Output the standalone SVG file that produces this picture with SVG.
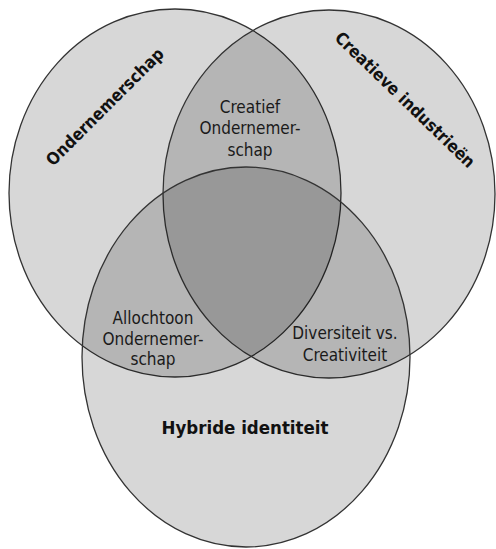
<svg xmlns="http://www.w3.org/2000/svg" width="496" height="549" viewBox="0 0 496 549">
<style>
.c{fill:#000;fill-opacity:0.155;stroke:#333;stroke-width:1.3}
.t{font-family:"DejaVu Sans Condensed","Liberation Sans",sans-serif;font-size:17px;fill:#1a1a1a;text-anchor:middle}
.b{font-family:"DejaVu Sans Condensed","Liberation Sans",sans-serif;font-size:17px;font-weight:bold;fill:#111;text-anchor:middle}
</style>
<rect width="496" height="549" fill="#fff"/>
<g id="ondernemerschap">
<ellipse class="c" cx="175" cy="193" rx="166" ry="184"/>
<text class="b" transform="translate(109,111) rotate(-45)">Ondernemerschap</text>
</g>
<g id="creatieve-industrieen">
<ellipse class="c" cx="329" cy="194" rx="166" ry="184"/>
<text class="b" transform="translate(401,104) rotate(44)">Creatieve industrieën</text>
</g>
<g id="hybride-identiteit">
<ellipse class="c" cx="246" cy="357" rx="164" ry="190"/>
<text class="b" x="245" y="434" style="font-size:18.5px">Hybride identiteit</text>
</g>
<g id="creatief-ondernemerschap">
<text class="t" x="250" y="113">Creatief</text>
<text class="t" x="250" y="134">Ondernemer-</text>
<text class="t" x="250" y="156">schap</text>
</g>
<g id="allochtoon-ondernemerschap">
<text class="t" x="153" y="324">Allochtoon</text>
<text class="t" x="153" y="345">Ondernemer-</text>
<text class="t" x="153" y="365">schap</text>
</g>
<g id="diversiteit-creativiteit">
<text class="t" x="345" y="339">Diversiteit vs.</text>
<text class="t" x="345" y="361">Creativiteit</text>
</g>
<g id="connectors"></g>
</svg>
